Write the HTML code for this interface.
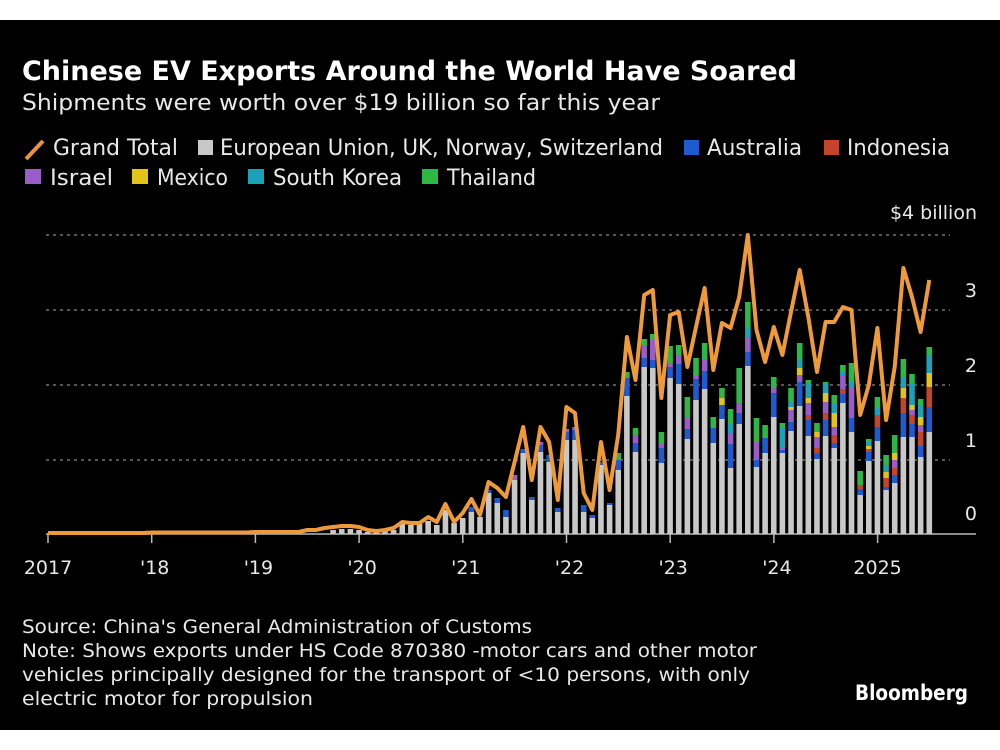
<!DOCTYPE html>
<html><head><meta charset="utf-8"><style>
html,body{margin:0;padding:0;background:#fff;}
#w{position:absolute;left:0;top:20px;width:1000px;height:710px;background:#000;}
svg{position:absolute;left:0;top:0;}
text{font-family:"DejaVu Sans","Liberation Sans",sans-serif;fill:#e8e8e8;}
</style></head><body>
<div id="w"></div>
<svg id="s" width="1000" height="750" xmlns="http://www.w3.org/2000/svg">
<text x="22" y="80" font-size="27" font-weight="bold" fill="#fff" textLength="775" lengthAdjust="spacingAndGlyphs" style="fill:#fff">Chinese EV Exports Around the World Have Soared</text>
<text x="22" y="110" font-size="22" textLength="638" lengthAdjust="spacingAndGlyphs">Shipments were worth over $19 billion so far this year</text>
<line x1="26" y1="159" x2="43" y2="141" stroke="#e8943f" stroke-width="4"/>
<text x="53" y="155" font-size="22" textLength="125" lengthAdjust="spacingAndGlyphs">Grand Total</text>
<rect x="198" y="140" width="15" height="15" fill="#c8c8c8"/>
<text x="220" y="155" font-size="22" textLength="443" lengthAdjust="spacingAndGlyphs">European Union, UK, Norway, Switzerland</text>
<rect x="684" y="140" width="15" height="15" fill="#1f5bd0"/>
<text x="707" y="155" font-size="22" textLength="95" lengthAdjust="spacingAndGlyphs">Australia</text>
<rect x="824" y="140" width="15" height="15" fill="#c4452b"/>
<text x="847" y="155" font-size="22" textLength="103" lengthAdjust="spacingAndGlyphs">Indonesia</text>
<rect x="25" y="169" width="16" height="15" fill="#9a5cc8"/>
<text x="50" y="185" font-size="22" textLength="63" lengthAdjust="spacingAndGlyphs">Israel</text>
<rect x="132" y="169" width="16" height="15" fill="#e2c31a"/>
<text x="157" y="185" font-size="22" textLength="71" lengthAdjust="spacingAndGlyphs">Mexico</text>
<rect x="248" y="169" width="16" height="15" fill="#1aa3b8"/>
<text x="273" y="185" font-size="22" textLength="129" lengthAdjust="spacingAndGlyphs">South Korea</text>
<rect x="422" y="169" width="16" height="15" fill="#2db845"/>
<text x="447" y="185" font-size="22" textLength="89" lengthAdjust="spacingAndGlyphs">Thailand</text>
<g id="grid"></g>
<g id="bars"></g>
<g id="ln"></g>
<text x="22" y="633" font-size="19" textLength="510" lengthAdjust="spacingAndGlyphs">Source: China's General Administration of Customs</text>
<text x="22" y="657" font-size="19" textLength="735" lengthAdjust="spacingAndGlyphs">Note: Shows exports under HS Code 870380 -motor cars and other motor</text>
<text x="22" y="681" font-size="19" textLength="728" lengthAdjust="spacingAndGlyphs">vehicles principally designed for the transport of &lt;10 persons, with only</text>
<text x="22" y="705" font-size="19" textLength="291" lengthAdjust="spacingAndGlyphs">electric motor for propulsion</text>
<text x="855" y="700" font-size="21" font-weight="bold" textLength="113" lengthAdjust="spacingAndGlyphs" style="fill:#fff">Bloomberg</text>
</svg>
<script>
var NS="http://www.w3.org/2000/svg";
function el(p,t,a,txt){var e=document.createElementNS(NS,t);for(var k in a)e.setAttribute(k,a[k]);if(txt!=null)e.textContent=txt;document.getElementById(p).appendChild(e);return e;}
[[235,"$4 billion",219],[310,"3",297],[385,"2",372],[460,"1",447],[534,"0",520]].forEach(function(g){
 if(g[0]<534)el("grid","line",{x1:46,x2:950,y1:g[0],y2:g[0],stroke:"#8a8a8a","stroke-width":1.3,"stroke-dasharray":"3,4"});
 el("grid","text",{x:977,y:g[2],"font-size":19,"text-anchor":"end"},g[1]);
});
el("grid","line",{x1:46,x2:976,y1:534,y2:534,stroke:"#bbb","stroke-width":1.5});
var labs=["2017","'18","'19","'20","'21","'22","'23","'24","2025"];
for(var k=0;k<9;k++){var x=48+k*103.7;
 el("grid","line",{x1:x,x2:x,y1:534,y2:543,stroke:"#bbb","stroke-width":1.5});
 el("grid","text",{x:x+(k==0||k==8?0:3),y:574,"font-size":19,"text-anchor":"middle"},labs[k]);}
var C={g:"#c8c8c8",b:"#1f5bd0",r:"#c4452b",p:"#9a5cc8",y:"#e2c31a",t:"#1aa3b8",G:"#2db845"};
var B={33:"g530",34:"g529",35:"g529",36:"g530",37:"g532",38:"g532",39:"g531",40:"g530",
41:"g524",42:"g525",43:"g524",44:"g521",45:"g525",46:"g510",47:"g523",48:"g518",49:"g512 b507",50:"g517",
51:"g493 b490",52:"g503 b498",53:"g517 b510",54:"g480 p475",55:"g453 b449",56:"g500 b497",57:"g452 b445 p442",
58:"g462 b455",59:"g512 b508",60:"g440 b432 p429",61:"g440 b430 p427",
62:"g512 b505",63:"g518 b515",64:"g465 b462",65:"g505 b503",66:"g470 b460 G453",67:"g396 b378 G372",
68:"g452 b443 p435 G428",69:"g367 b358 p345 G339",70:"g368 b360 p340 G334",71:"g463 b448 p443 G432",
72:"g378 b367 p363 G346",73:"g384 b364 p355 G345",74:"g439 b429 p418 G397",75:"g400 b379 p376 G358",
76:"g389 b371 p359 G343",77:"g443 b428 G417",78:"g419 b405 y398 G388",79:"g468 b444 p433 t424 G409",
80:"g424 b413 p403 G368",81:"g366 b352 p337 t327 G302",82:"g467 b460 p442 G418",83:"g453 b438 G425",
84:"g417 b393 p388 G377",85:"g453 b450 p447 t427 G423",86:"g431 b422 p410 y407 t402 G388",
87:"g406 b382 p375 y368 t360 G343",88:"g436 b420 r415 p403 y398 t383 G380",89:"g459 b453 r448 p437 y432 G423",
90:"g436 b420 r413 p402 y393 t383 G382",91:"g448 b443 r435 p427 y413 t403 G395",92:"g403 b394 r389 p375 t372 G365",
93:"g432 b418 p387 t382 G363",94:"g495 b489 r485 G471",95:"g461 b452 r449 y446 t442 G439",
96:"g441 b427 r415 t408 G397",97:"g490 b487 r478 y472 t465 G455",98:"g483 b475 r468 p460 y453 G435",
99:"g437 b413 r398 y388 t377 G359",100:"g437 b424 r415 p410 y405 t383 G374",
101:"g457 b446 r432 p425 y417 t405 G399",102:"g432 b407 r387 y373 t355 G347"};
for(var i in B){var x=48+i*8.64-2.8,prev=534;
 B[i].split(" ").forEach(function(s){var c=s[0],y=+s.slice(1);if(y<prev){el("bars","rect",{x:x,y:y,width:5.6,height:prev-y,fill:C[c]});prev=y;}});}
var L=[];for(var i=0;i<30;i++)L.push(i<12?533:(i<24?532.5:532));
L=L.concat([530,530,528,527,526,526,527,530,531,530,528,522,523,523,517,522,504,522,513,499,515,482,488,497,462,427,480,427,442,500,407,413,493,510,442,490,435,337,380,295,290,398,315,312,367,327,288,370,323,328,297,235,330,362,327,355,312,270,317,372,322,322,307,310,415,385,328,420,367,268,297,332,280]);
var pts=L.map(function(y,i){return (48+i*8.64).toFixed(1)+","+y;}).join(" ");
el("ln","polyline",{points:pts,fill:"none",stroke:"#ee9a3a","stroke-width":4,"stroke-linejoin":"round"});
</script>
</body></html>
